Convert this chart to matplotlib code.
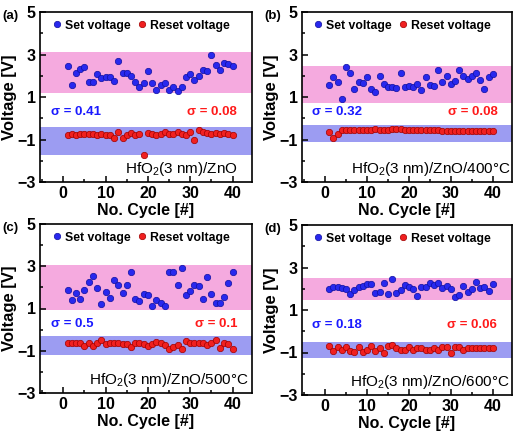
import matplotlib
matplotlib.use('Agg')
import matplotlib.pyplot as plt
from matplotlib.ticker import MultipleLocator
import numpy as np

plt.rcParams['font.family'] = ['Liberation Sans', 'DejaVu Sans']
plt.rcParams['mathtext.fontset'] = 'custom'
plt.rcParams['mathtext.rm'] = 'Liberation Sans'
plt.rcParams['mathtext.it'] = 'Liberation Sans'

cycles = np.arange(1, 41)

set_a = [2.45, 1.56, 2.15, 2.34, 2.39, 1.71, 1.71, 2.06, 1.90, 1.95,
         1.92, 1.76, 2.69, 2.15, 2.11, 2.00, 1.71, 1.45, 1.67, 2.22,
         1.67, 1.35, 1.56, 1.67, 1.35, 1.45, 1.29, 1.45, 1.95, 2.06,
         1.79, 2.00, 2.26, 2.22, 3.00, 2.50, 2.29, 2.61, 2.55, 2.48]
reset_a = [-0.77, -0.72, -0.80, -0.75, -0.72, -0.75, -0.72, -0.77, -0.75, -0.77,
           -0.77, -0.95, -0.64, -0.95, -0.80, -0.69, -0.77, -0.72, -1.74, -0.69,
           -0.72, -0.80, -0.72, -0.67, -0.72, -0.75, -0.67, -0.72, -0.80, -0.67,
           -1.00, -0.56, -0.64, -0.69, -0.72, -0.69, -0.75, -0.69, -0.75, -0.80]

set_b = [1.56, 1.95, 1.71, 0.90, 2.42, 2.15, 1.40, 1.71, 1.67, 1.95,
         1.40, 1.24, 2.00, 1.60, 1.48, 1.45, 1.43, 2.11, 1.45, 1.51,
         1.45, 1.60, 1.35, 1.95, 1.56, 1.51, 2.29, 1.71, 2.00, 1.60,
         1.76, 2.29, 2.00, 1.85, 2.00, 2.11, 1.79, 1.40, 1.95, 2.06]
reset_b = [-0.64, -0.95, -0.75, -0.57, -0.53, -0.53, -0.53, -0.53, -0.53, -0.53,
           -0.53, -0.50, -0.53, -0.55, -0.53, -0.50, -0.50, -0.52, -0.55, -0.53,
           -0.53, -0.53, -0.53, -0.57, -0.57, -0.57, -0.55, -0.62, -0.62, -0.58,
           -0.62, -0.62, -0.62, -0.62, -0.62, -0.62, -0.62, -0.62, -0.62, -0.62]

set_c = [1.89, 1.39, 1.74, 1.44, 1.89, 2.26, 2.54, 1.99, 1.23, 1.78,
         1.50, 2.37, 2.10, 1.74, 2.10, 2.73, 1.44, 1.34, 1.67, 1.63,
         1.10, 1.39, 1.28, 1.10, 2.73, 2.73, 2.13, 2.94, 1.63, 1.83,
         2.10, 2.05, 1.44, 2.49, 1.67, 1.28, 1.28, 1.55, 2.23, 2.73]
reset_c = [-0.65, -0.65, -0.65, -0.65, -0.78, -0.65, -0.78, -0.65, -0.49, -0.70,
           -0.65, -0.61, -0.65, -0.70, -0.70, -0.81, -0.61, -0.65, -0.70, -0.78,
           -0.70, -0.57, -0.61, -0.73, -0.92, -0.84, -0.73, -0.94, -0.54, -0.61,
           -0.65, -0.65, -0.65, -0.73, -0.61, -0.49, -0.89, -0.61, -0.70, -0.92]

set_d = [2.01, 2.06, 2.06, 2.04, 2.01, 1.75, 1.96, 2.06, 2.14, 2.22,
         2.22, 1.81, 1.85, 2.29, 1.75, 2.44, 1.81, 1.96, 2.17, 2.06,
         2.01, 1.67, 2.06, 2.06, 2.25, 2.17, 2.29, 2.04, 2.12, 1.98,
         1.62, 1.70, 2.12, 1.85, 2.01, 2.33, 2.04, 2.06, 1.90, 2.22]
reset_d = [-0.70, -0.92, -0.76, -0.86, -0.73, -0.92, -0.97, -0.76, -0.97, -0.86,
           -0.70, -0.92, -0.81, -1.02, -0.70, -0.65, -0.81, -0.86, -0.86, -0.76,
           -0.86, -0.81, -0.81, -0.86, -0.86, -0.81, -0.86, -0.76, -0.76, -1.02,
           -0.76, -0.76, -0.86, -0.81, -0.81, -0.81, -0.81, -0.81, -0.81, -0.81]

panel_tags = ['(a)', '(b)', '(c)', '(d)']
samples = ['HfO$_2$(3 nm)/ZnO', 'HfO$_2$(3 nm)/ZnO/400°C',
           'HfO$_2$(3 nm)/ZnO/500°C', 'HfO$_2$(3 nm)/ZnO/600°C']
sigma_set = ['0.41', '0.32', '0.5', '0.18']
sigma_reset = ['0.08', '0.08', '0.1', '0.06']
set_bands = [(1.19, 3.12), (0.74, 2.48), (0.95, 3.05), (1.46, 2.51)]
reset_bands = [(-1.75, -0.42), (-1.11, -0.33), (-1.19, -0.29), (-1.25, -0.50)]
set_data = [set_a, set_b, set_c, set_d]
reset_data = [reset_a, reset_b, reset_c, reset_d]

# axes boxes in pixels: left, top, right, bottom
boxes = [(40, 12, 252, 182), (302, 12, 512, 182),
         (40, 224, 252, 393), (302, 225, 512, 395)]
sample_x = [0.935, 0.995, 0.985, 0.99]

W, H = 519, 434
fig = plt.figure(figsize=(W / 100, H / 100), dpi=100)

for i in range(4):
    l, t, r, b = boxes[i]
    ax = fig.add_axes([l / W, 1 - b / H, (r - l) / W, (b - t) / H])
    ax.axhspan(*set_bands[i], color='#f5aadf', lw=0, zorder=0)
    ax.axhspan(*reset_bands[i], color='#9c9cf2', lw=0, zorder=0)
    ax.plot(cycles, set_data[i], 'o', ms=4.6, mfc='#2828ee', mec='#1010a0', mew=0.5,
            label='Set voltage', zorder=3)
    ax.plot(cycles, reset_data[i], 'o', ms=4.6, mfc='#f02020', mec='#a00000', mew=0.5,
            label='Reset voltage', zorder=3)
    ax.set_xlim(-5.5, 44.6)
    ax.set_ylim(-3, 5)
    ax.set_xticks([0, 10, 20, 30, 40])
    ax.set_yticks([-3, -1, 1, 3, 5])
    ax.xaxis.set_minor_locator(MultipleLocator(5))
    ax.yaxis.set_minor_locator(MultipleLocator(1))
    ax.tick_params(which='both', direction='in', top=False, right=False,
                   labelsize=11.5, width=1.1, pad=3)
    ax.tick_params(which='major', length=4)
    ax.tick_params(which='minor', length=2)
    for lab in ax.get_xticklabels() + ax.get_yticklabels():
        lab.set_fontweight('bold')
    for s in ax.spines.values():
        s.set_linewidth(1.2)
    ax.set_xlabel('No. Cycle [#]', fontsize=11.5, fontweight='bold', labelpad=1)
    ax.set_ylabel('Voltage [V]', fontsize=12, fontweight='bold', labelpad=0)
    ax.legend(loc='upper center', bbox_to_anchor=(0.47, 1.02), ncol=2, frameon=False,
              handletextpad=0.05, columnspacing=0.4, handlelength=1.2,
              prop={'weight': 'bold', 'size': 8.8})
    ax.text(0.05, 0.41, '\u03c3 = ' + sigma_set[i], transform=ax.transAxes,
            color='#1a1aff', fontsize=9.5, fontweight='bold', va='center')
    ax.text(0.93, 0.41, '\u03c3 = ' + sigma_reset[i], transform=ax.transAxes,
            color='#ff1a1a', fontsize=9.5, fontweight='bold', va='center', ha='right')
    ax.text(sample_x[i], 0.075, samples[i], transform=ax.transAxes,
            fontsize=11, ha='right', va='center')
    fig.text((l - 38) / W, 1 - (t - 2) / H, panel_tags[i], fontsize=9.5,
             fontweight='bold', va='top', ha='left')

fig.savefig('out.png', dpi=100)
